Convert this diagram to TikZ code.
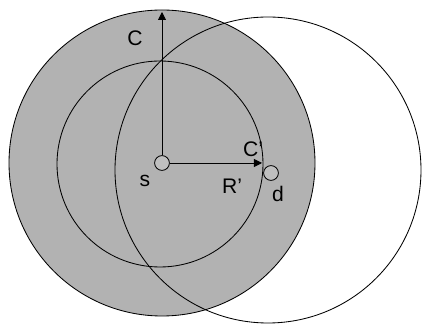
\documentclass[tikz,border=0pt]{standalone}
\usepackage{fontspec}
\setmainfont{Liberation Sans}
\usetikzlibrary{arrows.meta,positioning}

\begin{document}
\begin{tikzpicture}[x=0.025cm, y=-0.025cm, line width=0.6pt]
        \tikzset{
            zone/.style={draw, fill=black!30},
            reach/.style={draw},
            site/.style={draw, fill=black!25, circle, minimum size=0.37cm, inner sep=0pt},
            lbl/.style={font=\fontsize{15}{17}\selectfont, inner sep=0pt},
            line/.style={draw, -{Triangle[length=0.2cm, width=0.2cm]}}
        }
        \useasboundingbox (0,0) rectangle (423,326);

        % Coverage circles
        \path [zone] (162,163) circle (153);
        \path [reach] (160,164) circle (103);
        \path [reach] (268,170) circle (153);

        % Source and destination
        \node [site] (s) at (162,163) {};
        \node [site] (d) at (271,173) {};

        % Arrow end points on the circles
        \coordinate (ctop) at (162,12);
        \coordinate (cright) at (262,163);

        % Radii
        \draw [line] (s.north) -- (ctop);
        \draw [line] (s.east) -- (cright);

        % Labels
        \node [lbl] (lc) at (135,38) {C};
        \node [lbl] (lcp) at (253,149) {C'};
        \node [lbl] (ls) at (145,181) {s};
        \node [lbl] (lrp) at (232,186) {R'};
        \node [lbl] (ld) at (278,194) {d};

    \end{tikzpicture}
\end{document}
